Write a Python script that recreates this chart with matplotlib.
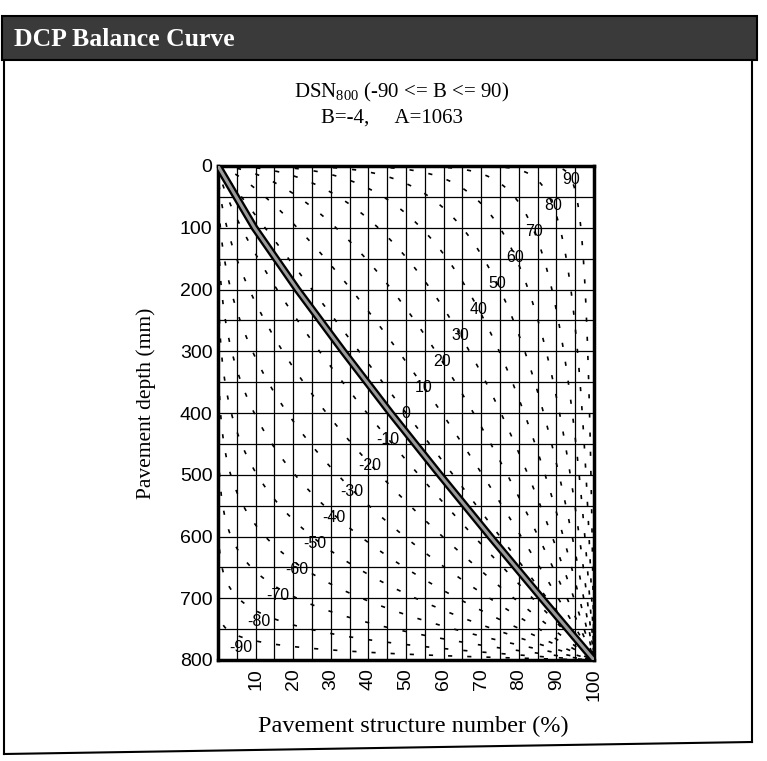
import numpy as np
import matplotlib
matplotlib.use("Agg")
import matplotlib.pyplot as plt
from matplotlib.patches import Rectangle
from matplotlib.lines import Line2D

plt.rcParams["mathtext.fontset"] = "custom"
plt.rcParams["mathtext.rm"] = "Liberation Serif"
plt.rcParams["mathtext.default"] = "rm"

# ---- data ----
family_B = [-90, -80, -70, -60, -50, -40, -30, -20, -10, 0, 10, 20, 30, 40, 50, 60, 70, 80, 90]
curve_depth = [0, 100, 200, 300, 400, 500, 600, 700, 800]
curve_sn = [0, 9.7, 21.1, 33.3, 45.9, 59.0, 72.4, 86.1, 100]
x_ticks = [10, 20, 30, 40, 50, 60, 70, 80, 90, 100]
y_ticks = [0, 100, 200, 300, 400, 500, 600, 700, 800]
title_line1 = r"DSN$_{800}$ (-90 <= B <= 90)"
title_line2 = "B=-4,     A=1063"
header_text = "DCP Balance Curve"

W, H = 767, 761
fig = plt.figure(figsize=(W / 100, H / 100), dpi=100)
fig.patch.set_facecolor("white")

serif = ["Liberation Serif", "DejaVu Serif"]
sans = ["Liberation Sans", "DejaVu Sans"]

def fx(px):
    return px / W

def fy(py):
    return 1 - py / H

# frame + header band
fig.add_artist(Rectangle((fx(2), fy(60)), fx(757) - fx(2), fy(16) - fy(60),
                         transform=fig.transFigure, facecolor="#3a3a3a",
                         edgecolor="black", lw=1.5))
fig.text(fx(14), fy(40), header_text, color="white", fontsize=18.5,
         fontweight="bold", family=serif, va="center", ha="left")
fig.add_artist(Line2D([fx(4), fx(4)], [fy(60), fy(754)], transform=fig.transFigure,
                      color="black", lw=1.5))
fig.add_artist(Line2D([fx(752), fx(752)], [fy(60), fy(742)], transform=fig.transFigure,
                      color="black", lw=1.5))
fig.add_artist(Line2D([fx(4), fx(752)], [fy(754), fy(742)], transform=fig.transFigure,
                      color="black", lw=1.5))

fig.text(fx(402), fy(92), title_line1, fontsize=15, family=serif, ha="center", va="center")
fig.text(fx(392), fy(118), title_line2, fontsize=15, family=serif, ha="center", va="center")

ax = fig.add_axes([fx(218), fy(660), fx(594) - fx(218), fy(166) - fy(660)])
ax.set_xlim(0, 100)
ax.set_ylim(800, 0)

# grid
for gx in np.arange(5, 100, 5):
    ax.axvline(gx, color="black", lw=0.9, zorder=1)
for gy in np.arange(50, 800, 50):
    ax.axhline(gy, color="black", lw=0.9, zorder=1)

# balance curve family: each passes through anti-diagonal point t = 0.5 + B/200
def exponent(B):
    t = 0.5 + B / 200.0
    return np.log(1 - t) / np.log(t)

u = np.linspace(0, 1, 800)
for B in family_B:
    p = exponent(B)
    ax.plot(u * 100, (u ** p) * 800, color="black", lw=1.2,
            linestyle=(0, (2.5, 9)), zorder=2)
    # label placement (point-symmetric about the chart centre)
    b = abs(B)
    lv = 0.5 - b / 190.0
    lu = lv ** (1.0 / exponent(b))
    if B < 0:
        lu, lv = 1 - lu, 1 - lv
    ax.text(lu * 100, lv * 800, str(B), fontsize=11.5, family=sans,
            ha="center", va="center", zorder=4)

# measured balance curve
ax.plot(curve_sn, curve_depth, color="black", lw=5.5, solid_capstyle="butt", zorder=3)
ax.plot(curve_sn, curve_depth, color="#9a9a9a", lw=2.2, zorder=3)

ax.set_xticks(x_ticks)
ax.set_yticks(y_ticks)
ax.set_xticklabels([str(v) for v in x_ticks], rotation=90, fontsize=14, family=sans)
ax.set_yticklabels([str(v) for v in y_ticks], fontsize=14, family=sans)
ax.tick_params(axis="y", length=0, pad=4)
ax.tick_params(axis="x", length=0, pad=6)
for s in ax.spines.values():
    s.set_linewidth(2.5)

fig.text(fx(146), fy(403), "Pavement depth (mm)", rotation=90, fontsize=15.5,
         family=serif, ha="center", va="center")
fig.text(fx(413), fy(726), "Pavement structure number (%)", fontsize=17.5,
         family=serif, ha="center", va="center")

fig.savefig("out.png", dpi=100)
